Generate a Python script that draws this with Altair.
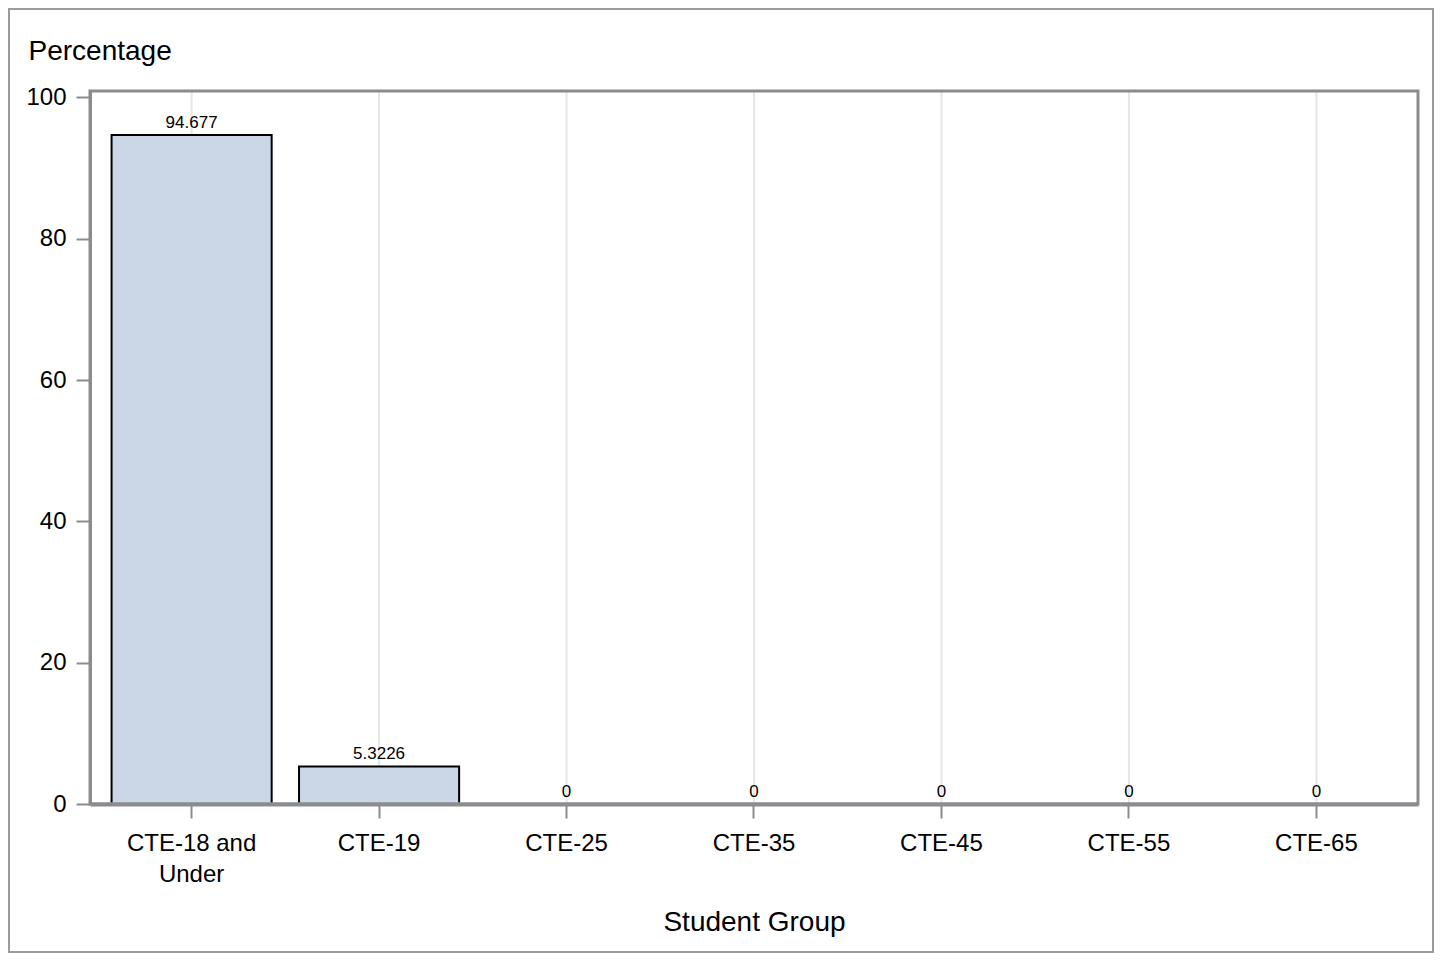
import altair as alt
import pandas as pd

groups = ["CTE-18 and Under", "CTE-19", "CTE-25", "CTE-35", "CTE-45", "CTE-55", "CTE-65"]
values = [94.677, 5.3226, 0, 0, 0, 0, 0]
labels = ["94.677", "5.3226", "0", "0", "0", "0", "0"]
y_ticks = [0, 20, 40, 60, 80, 100]

df = pd.DataFrame({"group": groups, "value": values, "label": labels})

FONT = "Liberation Sans"
GRAY = "#8a8c8f"

xscale = alt.Scale(domain=groups, paddingInner=0.146, paddingOuter=0.115)
yscale = alt.Scale(domain=[0, 100.9], nice=False, zero=True)

x_axis = alt.Axis(
    labelAngle=0, labelFontSize=24, labelColor="#000000", labelFont=FONT,
    labelExpr="datum.label == 'CTE-18 and Under' ? ['CTE-18 and', 'Under'] : datum.label",
    labelLineHeight=31, labelPadding=13,
    tickSize=14, tickColor=GRAY, tickWidth=2,
    domainColor=GRAY, domainWidth=4, grid=False,
    title="Student Group", titleFontSize=28, titleFontWeight="normal", titleFont=FONT,
    titleColor="#000000", titleY=126, titleBaseline="alphabetic", zindex=1,
)
y_axis = alt.Axis(
    values=y_ticks, labelFontSize=24, labelColor="#000000", labelFont=FONT, labelPadding=10,
    tickSize=14, tickColor=GRAY, tickWidth=2,
    domainColor=GRAY, domainWidth=3, grid=False,
    title="Percentage", titleAngle=0, titleAlign="left", titleX=-62, titleY=-32,
    titleBaseline="alphabetic", titleFontSize=28, titleFontWeight="normal", titleFont=FONT,
    titleColor="#000000", zindex=1,
)

base = alt.Chart(df)

grid = base.mark_rule(color="#e6e6e6", strokeWidth=2).encode(
    x=alt.X("group:N", sort=groups, scale=xscale, axis=x_axis),
)

bars = base.transform_filter("datum.value > 0").mark_bar(
    fill="#cbd6e6", stroke="#000000", strokeWidth=2
).encode(
    x=alt.X("group:N", sort=groups, scale=xscale, axis=x_axis),
    y=alt.Y("value:Q", scale=yscale, axis=y_axis),
)

text = base.mark_text(
    dy=-7, baseline="alphabetic", fontSize=17, font=FONT, color="#000000"
).encode(
    x=alt.X("group:N", sort=groups, scale=xscale, axis=x_axis),
    y=alt.Y("value:Q", scale=yscale, axis=y_axis),
    text="label:N",
)

frame = alt.Chart(alt.Data(values=[{"a": 1}])).mark_rect(
    filled=False, stroke=GRAY, strokeWidth=3
).encode(
    x=alt.value(0), x2=alt.value(1328), y=alt.value(0), y2=alt.value(713)
)

border = alt.Chart(alt.Data(values=[{"a": 1}])).mark_rect(
    filled=False, stroke="#9b9b9b", strokeWidth=2
).encode(
    x=alt.value(-81), x2=alt.value(1343), y=alt.value(-82), y2=alt.value(861)
)

chart = alt.layer(grid, bars, text, frame, border).properties(
    width=1328, height=713,
    autosize=alt.AutoSizeParams(type="none"),
    padding={"left": 82, "top": 83, "right": 16, "bottom": 149},
).configure_view(stroke=None if False else "transparent").configure(font=FONT)

chart.save("out.html", embed_options={"renderer": "svg", "actions": False})
